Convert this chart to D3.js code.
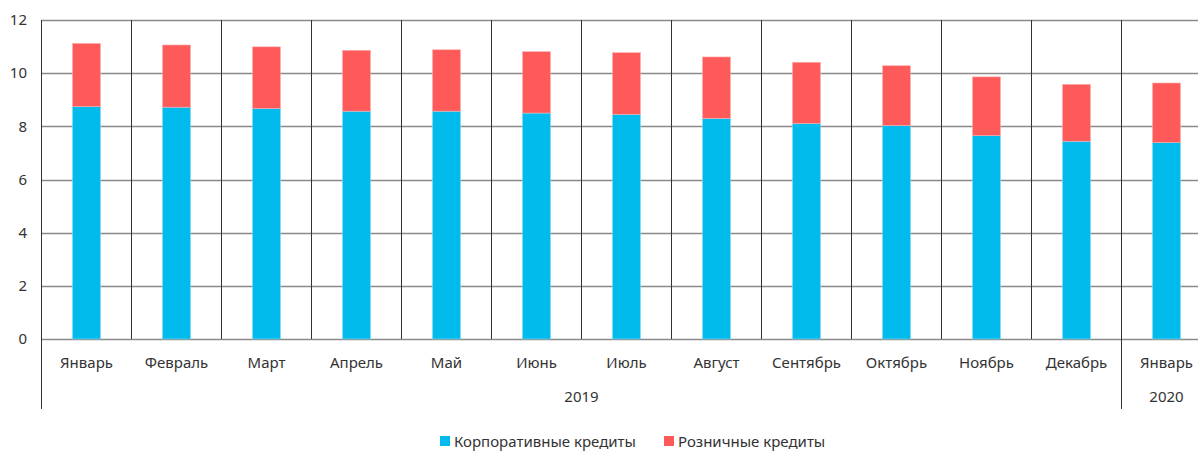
<!DOCTYPE html>
<html>
<head>
<meta charset="utf-8">
<script src="https://cdn.jsdelivr.net/npm/d3@7"></script>
<style>
  body { margin: 0; background: #fff; }
  text { font-family: "Noto Sans", "DejaVu Sans", sans-serif; fill: #333; }
</style>
</head>
<body>
<svg width="1198" height="452"></svg>
<script>
// Data
const months = ["Январь", "Февраль", "Март", "Апрель", "Май", "Июнь", "Июль",
    "Август", "Сентябрь", "Октябрь", "Ноябрь", "Декабрь", "Январь "]
const corporate = [8.74, 8.72, 8.67, 8.57, 8.57, 8.50, 8.45, 8.30, 8.11, 8.03, 7.65, 7.44, 7.39]
const retail = [2.38, 2.34, 2.32, 2.29, 2.31, 2.31, 2.32, 2.31, 2.30, 2.25, 2.21, 2.14, 2.24]
const years = [{ label: "2019", from: 0, to: 11 }, { label: "2020", from: 12, to: 12 }]
const seriesNames = ["Корпоративные кредиты", "Розничные кредиты"]
const colors = ["#00bbeb", "#ff5a5a"]
const yTicks = [0, 2, 4, 6, 8, 10, 12]

const svg = d3.select("svg")

const table = months.map((m, i) => ({ month: m, corporate: corporate[i], retail: retail[i] }))
const stacked = d3.stack().keys(["corporate", "retail"])(table)

// Scales (the last column runs past the right edge, like the original)
const x = d3.scaleBand().domain(months).range([41.5, 1211.5]).paddingInner(0).paddingOuter(0)
const y = d3.scaleLinear().domain([0, 12]).range([339, 20])
const barW = 28

// Horizontal grid
svg.append("g")
    .selectAll("line")
    .data(yTicks)
    .join("line")
    .attr("x1", 41.5).attr("x2", 1198)
    .attr("y1", d => Math.round(y(d)) + 0.5).attr("y2", d => Math.round(y(d)) + 0.5)
    .attr("stroke", "#8a8a8a")
    .attr("stroke-width", 1.4)

// Vertical separators between months
svg.append("g")
    .selectAll("line")
    .data(months)
    .join("line")
    .attr("x1", d => x(d)).attr("x2", d => x(d))
    .attr("y1", y(12)).attr("y2", y(0))
    .attr("stroke", "#333")
    .attr("stroke-width", 1)

// Bars
svg.append("g")
    .selectAll("g")
    .data(stacked)
    .join("g")
    .attr("fill", (d, i) => colors[i])
    .attr("stroke", (d, i) => i === 0 ? "#7fdcf5" : "#ffb0b0")
    .attr("stroke-width", 0.6)
    .selectAll("rect")
    .data(d => d)
    .join("rect")
    .attr("x", d => x(d.data.month) + x.bandwidth() / 2 - barW / 2)
    .attr("width", barW)
    .attr("y", d => y(d[1]))
    .attr("height", d => y(d[0]) - y(d[1]))

// Y axis labels
svg.append("g")
    .selectAll("text")
    .data(yTicks)
    .join("text")
    .attr("x", 27)
    .attr("y", d => y(d))
    .attr("dy", "0.35em")
    .attr("text-anchor", "end")
    .style("font-size", "15px")
    .text(d => d)

// Month labels
svg.append("g")
    .selectAll("text")
    .data(months)
    .join("text")
    .attr("x", d => x(d) + x.bandwidth() / 2)
    .attr("y", 363)
    .attr("dy", "0.35em")
    .attr("text-anchor", "middle")
    .style("font-size", "15px")
    .text(d => d.trim())

// Year groups and their separators below the axis
svg.append("g")
    .selectAll("line")
    .data([months[0], months[12]])
    .join("line")
    .attr("x1", d => x(d)).attr("x2", d => x(d))
    .attr("y1", y(12)).attr("y2", 409)
    .attr("stroke", "#333")

svg.append("g")
    .selectAll("text")
    .data(years)
    .join("text")
    .attr("x", d => (x(months[d.from]) + x(months[d.to]) + x.bandwidth()) / 2)
    .attr("y", 397)
    .attr("dy", "0.35em")
    .attr("text-anchor", "middle")
    .style("font-size", "15px")
    .text(d => d.label)

// Legend
const legendX = [440, 664]
const legend = svg.append("g")
    .selectAll("g")
    .data(seriesNames)
    .join("g")
    .attr("transform", (d, i) => `translate(${legendX[i]},0)`)

legend.append("rect")
    .attr("y", 436).attr("width", 10).attr("height", 10)
    .attr("fill", (d, i) => colors[i])

legend.append("text")
    .attr("x", 14).attr("y", 447)
    .style("font-size", "15px")
    .text(d => d)
</script>
</body>
</html>
